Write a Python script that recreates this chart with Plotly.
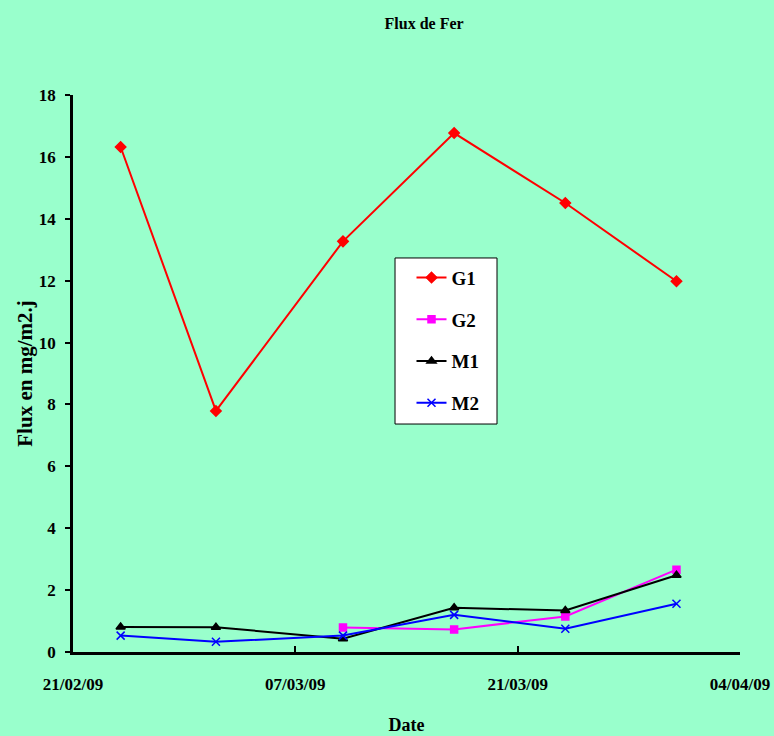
import plotly.graph_objects as go

# Sampling dates and iron flux values (mg/m2.j)
dates = ["2009-02-24", "2009-03-02", "2009-03-10", "2009-03-17", "2009-03-24", "2009-03-31"]
g1 = [16.32, 7.79, 13.27, 16.77, 14.51, 11.98]
g2 = [None, None, 0.79, 0.73, 1.15, 2.66]
m1 = [0.81, 0.80, 0.43, 1.43, 1.34, 2.48]
m2 = [0.53, 0.33, 0.53, 1.20, 0.75, 1.56]

x_ticks = ["2009-02-21", "2009-03-07", "2009-03-21", "2009-04-04"]
x_ticklabels = ["21/02/09", "07/03/09", "21/03/09", "04/04/09"]

FONT = "Liberation Serif"
BG = "#99FFCC"

series = [
    ("G1", g1, "#FF0000", "diamond", 8),
    ("G2", g2, "#FF00FF", "square", 7),
    ("M1", m1, "#000000", "triangle-up", 8),
    ("M2", m2, "#0000FF", "x-thin", 8),
]

fig = go.Figure()
for name, vals, color, symbol, size in series:
    fig.add_trace(go.Scatter(
        x=dates, y=vals, name=f"<b>{name}</b>", mode="lines+markers",
        legendgroup=name,
        line=dict(color=color, width=2),
        marker=dict(symbol=symbol, size=size, color=color,
                    line=dict(color=color, width=1.5)),
    ))

# white framed box behind the legend entries
fig.add_shape(type="rect", xref="paper", yref="paper",
              x0=0.4828, x1=0.6357, y0=0.4093, y1=0.7074,
              fillcolor="white", line=dict(color="black", width=1),
              layer="above")

fig.update_layout(
    width=774, height=736,
    paper_bgcolor=BG, plot_bgcolor=BG,
    margin=dict(l=73, r=34, t=95, b=84),
    font=dict(family=FONT, color="black", size=16),
    title=dict(text="<b>Flux de Fer</b>", x=0.548, xanchor="center",
               y=0.968, yanchor="middle", font=dict(size=16, family=FONT)),
    showlegend=True,
    legend=dict(x=0.5075, y=0.706, xanchor="left", yanchor="top",
                bgcolor="rgba(0,0,0,0)", borderwidth=0,
                traceorder="grouped", tracegroupgap=14,
                font=dict(size=19, family=FONT)),
)

fig.update_xaxes(
    type="date", range=["2009-02-21", "2009-04-04"],
    tickvals=x_ticks, ticktext=[f"<b>{t}</b>" for t in x_ticklabels],
    ticks="inside", ticklen=6, tickwidth=2, tickcolor="black",
    showline=True, linecolor="black", linewidth=2.5,
    showgrid=False, zeroline=False, ticklabelstandoff=15,
    automargin=False,
    tickfont=dict(size=17, family=FONT),
    title=dict(text="<b>Date</b>", font=dict(size=18, family=FONT), standoff=26),
)
fig.update_yaxes(
    range=[0, 18], tickvals=list(range(0, 19, 2)),
    ticktext=[f"<b>{v}</b>" for v in range(0, 19, 2)],
    ticks="outside", ticklen=5, tickwidth=2, tickcolor="black",
    showline=True, linecolor="black", linewidth=2.5,
    showgrid=False, zeroline=False, ticklabelstandoff=6,
    automargin=False,
    tickfont=dict(size=17, family=FONT),
    title=dict(text="<b>Flux en mg/m2.j</b>",
               font=dict(size=21, family=FONT), standoff=1),
)

fig.write_html("out.html")
